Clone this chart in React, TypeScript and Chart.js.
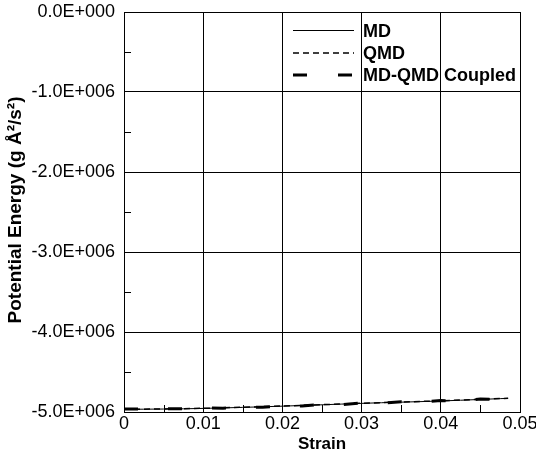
import React, { useEffect, useRef } from "react";
import { Chart, registerables } from "chart.js";

Chart.register(...registerables);

const strain = [0, 0.0025, 0.005, 0.0075, 0.01, 0.0125, 0.015, 0.0175, 0.02, 0.0225, 0.025, 0.0275, 0.03, 0.0325, 0.035, 0.0375, 0.04, 0.0425, 0.045, 0.0475, 0.0485];
const mdEnergy = [-4966000, -4965000, -4963000, -4960000, -4955000, -4949000, -4942000, -4935000, -4927000, -4918000, -4910000, -4901000, -4892000, -4884000, -4877000, -4870000, -4862000, -4853000, -4843000, -4833000, -4830000];
const qmdEnergy = [-4967000, -4965000, -4962000, -4958000, -4954000, -4947000, -4941000, -4933000, -4925000, -4917000, -4908000, -4900000, -4891000, -4883000, -4875000, -4868000, -4860000, -4851000, -4841000, -4831000, -4829000];
const coupledEnergy = [-4962000, -4964000, -4958000, -4961000, -4951000, -4952000, -4938000, -4940000, -4922000, -4925000, -4905000, -4908000, -4888000, -4892000, -4872000, -4877000, -4857000, -4861000, -4838000, -4842000, -4832000];

const seriesNames = ["MD", "QMD", "MD-QMD Coupled"];
const xTickLabels = ["0", "0.01", "0.02", "0.03", "0.04", "0.05"];
const yTickLabels = ["0.0E+000", "-1.0E+006", "-2.0E+006", "-3.0E+006", "-4.0E+006", "-5.0E+006"];
const xTitle = "Strain";
const yTitle = "Potential Energy (g Å²/s²)";

const FONT = "'Liberation Sans', Arial, sans-serif";
const seriesStyles = [
  { width: 1, dash: [] as number[] },
  { width: 1.5, dash: [6, 4] },
  { width: 3, dash: [14, 30] },
];

const nearInt = (v: number) => Math.abs(v - Math.round(v)) < 1e-6;

export default function App() {
  const ref = useRef<HTMLCanvasElement | null>(null);
  useEffect(() => {
    document.body.style.margin = "0";
    const canvas = ref.current;
    if (!canvas) return;
    const series = [mdEnergy, qmdEnergy, coupledEnergy];
    const overlay = {
      id: "overlay",
      afterDraw(chart: any) {
        const ctx = chart.ctx;
        const xs = chart.scales.x;
        const ys = chart.scales.y;
        const area = chart.chartArea;
        ctx.save();
        ctx.strokeStyle = "#000";
        ctx.lineWidth = 1;
        ctx.setLineDash([]);
        ys.ticks.forEach((t: any) => {
          if (!nearInt(t.value / 1e6)) {
            const y = Math.round(ys.getPixelForValue(t.value)) + 0.5;
            ctx.beginPath();
            ctx.moveTo(area.left, y);
            ctx.lineTo(area.left + 7, y);
            ctx.stroke();
          }
        });
        xs.ticks.forEach((t: any) => {
          if (!nearInt(t.value / 0.01)) {
            const x = Math.round(xs.getPixelForValue(t.value)) + 0.5;
            ctx.beginPath();
            ctx.moveTo(x, area.bottom);
            ctx.lineTo(x, area.bottom - 7);
            ctx.stroke();
          }
        });
        ctx.translate(16, (area.top + area.bottom) / 2 - 2);
        ctx.rotate(-Math.PI / 2);
        ctx.font = `bold 19px ${FONT}`;
        ctx.fillStyle = "#000";
        ctx.textAlign = "center";
        ctx.textBaseline = "middle";
        ctx.fillText(yTitle, 0, 0);
        ctx.restore();
        ctx.save();
        const rows = [30.5, 53, 75];
        seriesNames.forEach((name, i) => {
          const st = seriesStyles[i];
          ctx.strokeStyle = "#000";
          ctx.lineWidth = st.width;
          ctx.setLineDash(st.dash);
          ctx.beginPath();
          if (i === 2) {
            ctx.setLineDash([]);
            ctx.moveTo(293, rows[i]);
            ctx.lineTo(307, rows[i]);
            ctx.moveTo(338, rows[i]);
            ctx.lineTo(352, rows[i]);
          } else {
            ctx.moveTo(293, rows[i]);
            ctx.lineTo(354, rows[i]);
          }
          ctx.stroke();
          ctx.setLineDash([]);
          ctx.fillStyle = "#000";
          ctx.font = `bold 18px ${FONT}`;
          ctx.textAlign = "left";
          ctx.textBaseline = "middle";
          ctx.fillText(name, 363, Math.round(rows[i]) + 1);
        });
        ctx.restore();
      },
    };
    const chart = new Chart(canvas, {
      type: "line",
      data: {
        datasets: seriesNames.map((name, i) => ({
          label: name,
          data: strain.map((s, j) => ({ x: s, y: series[i][j] })),
          borderColor: "#000",
          borderWidth: seriesStyles[i].width,
          borderDash: seriesStyles[i].dash,
          pointRadius: 0,
          fill: false,
          tension: 0,
        })),
      },
      options: {
        animation: false,
        responsive: false,
        layout: { padding: { top: 12, right: 16, left: 0, bottom: 0 } },
        plugins: { legend: { display: false }, tooltip: { enabled: false } },
        scales: {
          x: {
            type: "linear",
            min: 0,
            max: 0.05,
            afterFit: (s: any) => { s.height = 52; s.paddingLeft = 0; s.paddingRight = 0; },
            border: { color: "#000", width: 1 },
            grid: {
              drawTicks: false,
              lineWidth: 1,
              color: (c: any) => (c.tick && nearInt(c.tick.value / 0.01) ? "#000" : "rgba(0,0,0,0)"),
            },
            ticks: {
              stepSize: 0.005,
              autoSkip: false,
              maxRotation: 0,
              padding: 1,
              color: "#000",
              font: { family: FONT, size: 18 },
              callback: (v: any) => {
                const k = Number(v) / 0.01;
                return nearInt(k) ? xTickLabels[Math.round(k)] : "";
              },
            },
            title: {
              display: true,
              text: xTitle,
              color: "#000",
              font: { family: FONT, size: 17, weight: "bold" },
              padding: { top: 0, bottom: 9 },
            },
          },
          y: {
            type: "linear",
            min: -5000000,
            max: 0,
            afterFit: (s: any) => { s.width = 124; s.paddingTop = 0; s.paddingBottom = 0; },
            border: { color: "#000", width: 1 },
            grid: {
              drawTicks: false,
              lineWidth: 1,
              color: (c: any) => (c.tick && nearInt(c.tick.value / 1e6) ? "#000" : "rgba(0,0,0,0)"),
            },
            ticks: {
              stepSize: 500000,
              autoSkip: false,
              padding: 9,
              color: "#000",
              font: { family: FONT, size: 18 },
              callback: (v: any) => {
                const k = -Number(v) / 1e6;
                return nearInt(k) ? yTickLabels[Math.round(k)] : "";
              },
            },
          },
        },
      },
      plugins: [overlay],
    });
    return () => chart.destroy();
  }, []);
  return (
    <div style={{ width: 536, height: 464 }}>
      <canvas ref={ref} width={536} height={464} />
    </div>
  );
}
